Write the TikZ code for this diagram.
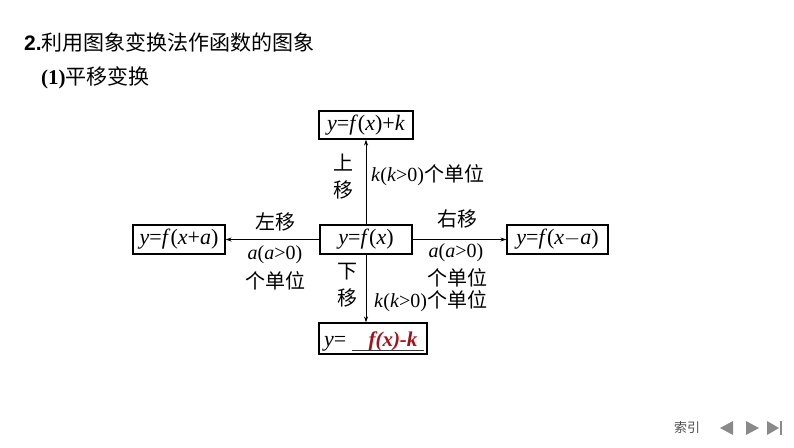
\documentclass[tikz,border=0pt]{standalone}
\usepackage{fontspec}
\setmainfont{Liberation Serif}
\newfontfamily\cjk{Noto Sans CJK SC}
\newfontfamily\hei{Liberation Sans}
\usetikzlibrary{arrows.meta}
\definecolor{ansred}{HTML}{A3121A}
\definecolor{navgray}{HTML}{8A8A8A}
\begin{document}
\begin{tikzpicture}[x=1pt,y=-1pt,
  box/.style={draw,line width=1.1pt,inner sep=0pt,font=\fontsize{22}{22}\selectfont},
  lab/.style={inner sep=0pt,font=\fontsize{20}{20}\selectfont},
  arr/.style={-{Stealth[length=6pt,width=4pt]},line width=0.8pt}]
\useasboundingbox (0,0) rectangle (794,447);
% title
\node[anchor=west,inner sep=0pt,font=\fontsize{21}{21}\selectfont] (title) at (24,42)
  {{\hei\bfseries 2.}{\cjk 利用图象变换法作函数的图象}};
\node[anchor=west,inner sep=0pt,font=\fontsize{21}{21}\selectfont] (sub) at (41,78)
  {{\bfseries (1)}{\cjk 平移变换}};
% boxes
\node[box,minimum width=94pt,minimum height=28pt] (t) at (366,125) {\textit{y}=\textit{f}(\textit{x})+\textit{k}};
\node[box,minimum width=92pt,minimum height=29pt] (c) at (366,239.5) {\textit{y}=\textit{f}(\textit{x})};
\node[box,minimum width=92pt,minimum height=29pt] (l) at (179,239.5) {\textit{y}=\textit{f}(\textit{x}+\textit{a})};
\node[box,minimum width=101pt,minimum height=29pt] (r) at (557.5,239.5) {\textit{y}=\textit{f}(\textit{x}$-$\textit{a})};
\node[box,minimum width=108pt,minimum height=31pt] (b) at (373,338.5) {};
\node[anchor=base west,inner sep=0pt,font=\fontsize{22}{22}\selectfont] (beq) at (324,346) {\textit{y}=};
\node[anchor=base,inner sep=0pt,font=\fontsize{21}{21}\selectfont\bfseries\itshape,text=ansred] (bans) at (393,346) {f(x)-k};
\coordinate (u1) at (352,350.5);
\coordinate (u2) at (424,350.5);
\draw[line width=0.9pt,black!80] (u1) -- (u2);
% arrows
\draw[arr] (c.north) -- (t.south);
\draw[arr] (c.south) -- (c.south |- b.north);
\draw[arr] (c.west) -- (l.east);
\draw[arr] (c.east) -- (r.west);
% labels
\node[lab] (up1) at (343,163) {\cjk 上};
\node[lab] (up2) at (343,190) {\cjk 移};
\node[lab,anchor=west] (upk) at (371,175) {\textit{k}(\textit{k}>0){\cjk 个单位}};
\node[lab] (lt) at (275,222) {\cjk 左移};
\node[lab] (la) at (275,255) {\textit{a}(\textit{a}>0)};
\node[lab] (lu) at (275,281) {\cjk 个单位};
\node[lab] (rt) at (457,219) {\cjk 右移};
\node[lab] (ra) at (456,253) {\textit{a}(\textit{a}>0)};
\node[lab] (ru) at (457,278) {\cjk 个单位};
\node[lab] (dn1) at (347,272) {\cjk 下};
\node[lab] (dn2) at (347,298) {\cjk 移};
\node[lab,anchor=west] (dnk) at (374,301) {\textit{k}(\textit{k}>0){\cjk 个单位}};
% footer
\node[inner sep=0pt,font=\fontsize{13}{13}\selectfont\cjk,text=black!70] (idx) at (687,428) {索引};
\fill[navgray] (720,428) -- (733,421) -- (733,435) -- cycle;
\fill[navgray] (759,428) -- (746,421) -- (746,435) -- cycle;
\fill[navgray] (779,428) -- (767,421) -- (767,435) -- cycle;
\fill[navgray] (779.5,421) rectangle (782,435);
\end{tikzpicture}
\end{document}
